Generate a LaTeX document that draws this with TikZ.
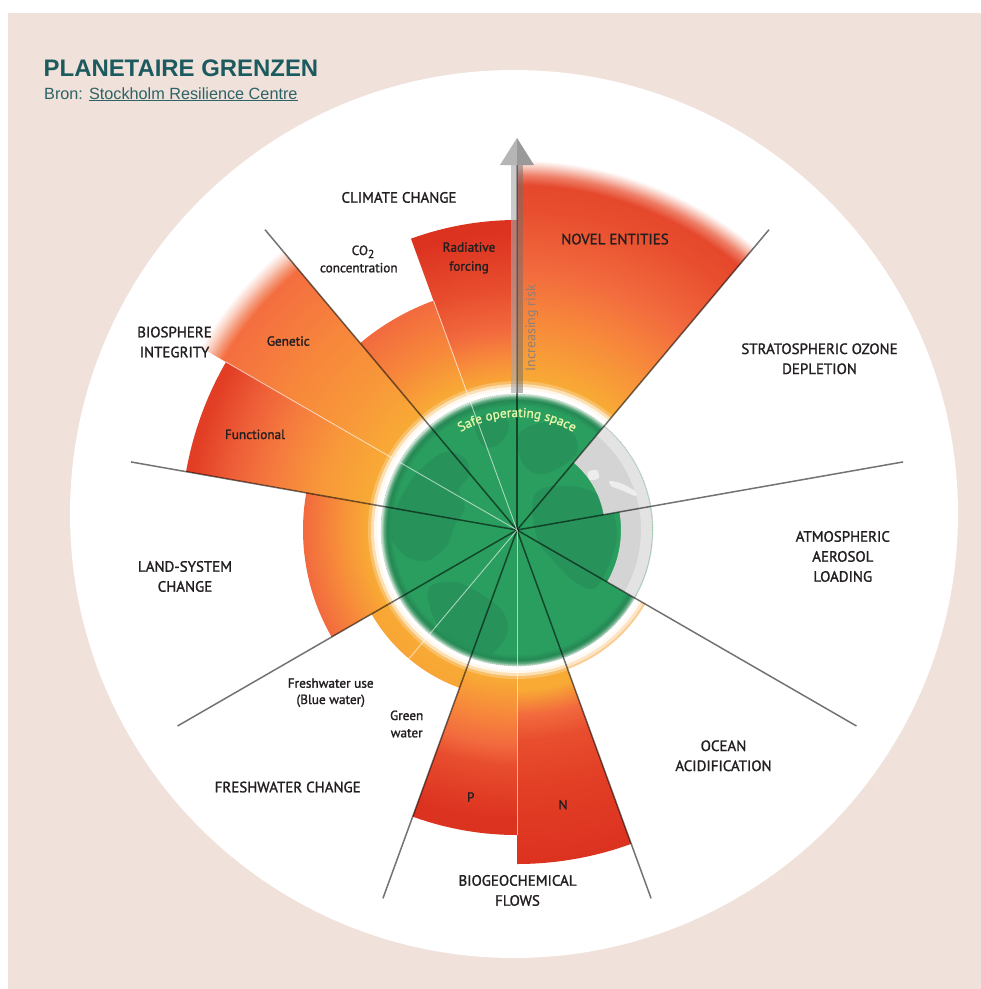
\documentclass[tikz,border=0pt]{standalone}
\usepackage{fontspec}
\setmainfont{PT Sans}
\newfontfamily\labfont[FakeBold=1.4]{PT Sans}
\newfontfamily\titlefont{Liberation Sans}
\usetikzlibrary{decorations.text}

\definecolor{beige}{HTML}{F0E1DA}
\definecolor{teal1}{HTML}{1B5A5E}
\definecolor{teal2}{HTML}{2D6366}
\definecolor{txt}{HTML}{231F20}
\definecolor{yo}{HTML}{F8AA35}
\definecolor{yo2}{HTML}{F8983A}
\definecolor{or1}{HTML}{F7883B}
\definecolor{or2}{HTML}{F26A3E}
\definecolor{or3}{HTML}{F57B3E}
\definecolor{or4}{HTML}{EE5F38}
\definecolor{or5}{HTML}{F5743F}
\definecolor{or6}{HTML}{F46E40}
\definecolor{or7}{HTML}{F78D3A}
\definecolor{fwc}{HTML}{F8A535}
\definecolor{rd1}{HTML}{E84E2E}
\definecolor{rd2}{HTML}{E23E25}
\definecolor{rd3}{HTML}{DC3220}
\definecolor{nv1}{HTML}{E5482C}
\definecolor{nv2}{HTML}{EE7F68}
\definecolor{nv3}{HTML}{F8C6BA}
\definecolor{gn1}{HTML}{F59878}
\definecolor{gn2}{HTML}{FAD0C2}
\definecolor{gr}{HTML}{2A9E5F}
\definecolor{grd}{HTML}{26905A}
\definecolor{gr1}{HTML}{248853}
\definecolor{gr2}{HTML}{5AA67C}
\definecolor{gr3}{HTML}{CFE9D8}
\definecolor{gray1}{HTML}{D4D4D4}
\definecolor{gray2}{HTML}{E3E3E3}
\definecolor{gray3}{HTML}{EDEDED}
\definecolor{ocn}{HTML}{F9BC6A}
\definecolor{safe}{HTML}{E6F5A8}
\definecolor{headl}{HTML}{B5B5B5}
\definecolor{headr}{HTML}{999999}
\definecolor{shaftl}{HTML}{A8A8A8}
\definecolor{shaftr}{HTML}{6E6E6E}
\definecolor{risk}{HTML}{8C8079}

\pgfdeclareradialshading{nov}{\pgfpointorigin}{color(0bp)=(yo); color(9.375bp)=(yo); color(13.125bp)=(or1); color(16.25bp)=(or2); color(20bp)=(rd1); color(21.5625bp)=(nv1); color(22.1875bp)=(nv2); color(22.6875bp)=(nv3); color(23.125bp)=(white); color(50bp)=(white)}
\pgfdeclareradialshading{rad}{\pgfpointorigin}{color(0bp)=(yo); color(9.0625bp)=(yo); color(10.9375bp)=(or1); color(12.5bp)=(or2); color(15bp)=(rd1); color(18.75bp)=(rd3); color(50bp)=(rd3)}
\pgfdeclareradialshading{co2}{\pgfpointorigin}{color(0bp)=(yo); color(9.375bp)=(yo); color(12.1875bp)=(or1); color(15.25bp)=(or2); color(50bp)=(or2)}
\pgfdeclareradialshading{gen}{\pgfpointorigin}{color(0bp)=(yo); color(9.375bp)=(yo); color(12.5bp)=(yo2); color(16.25bp)=(or1); color(20bp)=(or5); color(21.25bp)=(or6); color(21.75bp)=(gn1); color(22.3125bp)=(gn2); color(22.875bp)=(white); color(50bp)=(white)}
\pgfdeclareradialshading{fun}{\pgfpointorigin}{color(0bp)=(yo); color(9.375bp)=(yo); color(12.5bp)=(yo2); color(15.625bp)=(or3); color(18.125bp)=(or4); color(20.625bp)=(rd2); color(50bp)=(rd2)}
\pgfdeclareradialshading{land}{\pgfpointorigin}{color(0bp)=(yo); color(9.375bp)=(yo); color(11.25bp)=(or7); color(13.375bp)=(or2); color(50bp)=(or2)}
\pgfdeclareradialshading{fw}{\pgfpointorigin}{color(0bp)=(yo); color(9.375bp)=(yo); color(10.5bp)=(fwc); color(50bp)=(fwc)}
\pgfdeclareradialshading{pp}{\pgfpointorigin}{color(0bp)=(yo); color(9.375bp)=(yo); color(11.5625bp)=(or1); color(13.4375bp)=(or2); color(14.6875bp)=(rd1); color(18.125bp)=(rd3); color(50bp)=(rd3)}
\pgfdeclareradialshading{nn}{\pgfpointorigin}{color(0bp)=(yo); color(10bp)=(yo); color(11.5625bp)=(or2); color(13.125bp)=(rd1); color(16.25bp)=(rd2); color(20.875bp)=(rd3); color(50bp)=(rd3)}
\pgfdeclareradialshading{globe}{\pgfpointorigin}{color(0bp)=(gr); color(22.79bp)=(gr); color(23.9bp)=(gr1); color(24.45bp)=(gr2); color(25bp)=(gr3); color(50bp)=(gr3)}

\newcommand\wedgeshade[4]{%
  \begin{scope}
    \clip (0,0) -- (#1:#3) arc[start angle=#1,end angle=#2,radius=#3] -- cycle;
    \shade[shading=#4] (0,0) circle (400);
  \end{scope}}

\tikzset{
  spoke/.style={black, opacity=.55, line width=1.5bp},
  subline/.style={white, opacity=.6, line width=.9bp},
  land/.style={grd, opacity=.75},
  lab/.style={inner sep=0, anchor=base, text=txt, font=\labfont\fontsize{15}{18}\selectfont},
  slab/.style={inner sep=0, anchor=base, text=txt, font=\labfont\fontsize{13.3}{16}\selectfont},
}

\begin{document}
\begin{tikzpicture}[x=1bp,y=1bp]
\useasboundingbox (0,0) rectangle (981,-989);
\fill[white] (0,0) rectangle (981,-989);
\fill[beige] (8,-13) rectangle (981,-989);
\fill[white] (514,-514) circle (444);

\coordinate (C) at (517,-530);

\begin{scope}[shift={(C)}]
  % sectors
  \wedgeshade{50}{90}{375}{nov}
  \wedgeshade{90}{110}{310}{rad}
  \wedgeshade{110}{130}{244}{co2}
  \wedgeshade{130}{150}{372}{gen}
  \wedgeshade{150}{170}{336}{fun}
  \wedgeshade{170}{210}{214}{land}
  \wedgeshade{210}{250}{168}{fw}
  \wedgeshade{250}{270}{305}{pp}
  \wedgeshade{270}{290}{334}{nn}
  % ocean acidification rim
  \fill[ocn] (-70:137) arc[start angle=-70,end angle=-30,radius=137] -- (-30:148) arc[start angle=-30,end angle=-70,radius=148] -- cycle;
  % glow
  \fill[white, opacity=.25] (0,0) circle (149);
  \fill[white, opacity=.5] (0,0) circle (146);
  \fill[white, opacity=.8] (0,0) circle (143);
  \fill[white] (0,0) circle (140);
  % globe
  \shade[shading=globe] (0,0) circle (136);
  \begin{scope}
    \clip (0,0) circle (129);
    \begin{scope}[yscale=-1]
      % North America
      \fill[land] plot[smooth cycle, tension=.6] coordinates {(-128,-5) (-112,-40) (-95,-62) (-72,-78) (-52,-72) (-48,-55) (-58,-40) (-52,-22) (-62,-5) (-70,15) (-88,30) (-108,28) (-122,15)};
      % Greenland
      \fill[land] plot[smooth cycle, tension=.6] coordinates {(-42,-108) (-20,-118) (-8,-104) (-18,-86) (-34,-84)};
      % South America
      \fill[land] plot[smooth cycle, tension=.6] coordinates {(-88,58) (-62,52) (-36,64) (-14,82) (-10,104) (-26,124) (-48,128) (-66,112) (-84,86)};
      % Europe
      \fill[land] plot[smooth cycle, tension=.6] coordinates {(2,-96) (30,-108) (55,-98) (60,-78) (42,-62) (20,-56) (4,-70)};
      % Africa
      \fill[land] plot[smooth cycle, tension=.6] coordinates {(18,-36) (55,-44) (88,-30) (100,0) (94,30) (78,58) (58,52) (36,30) (20,8)};
    \end{scope}
  \end{scope}
  % grey part of the globe (ozone, aerosols)
  \fill[gray1] (10:88) arc[start angle=10,end angle=50,radius=88] -- (50:135) arc[start angle=50,end angle=10,radius=135] -- cycle;
  \fill[gray1] (-30:104) arc[start angle=-30,end angle=10,radius=104] -- (10:135) arc[start angle=10,end angle=-30,radius=135] -- cycle;
  \fill[gray2] (-30:124) arc[start angle=-30,end angle=50,radius=124] -- (50:135) arc[start angle=50,end angle=-30,radius=135] -- cycle;
  \begin{scope}[yscale=-1]
    \fill[gray3] plot[smooth cycle] coordinates {(71,-58) (80,-60) (82,-52) (73,-50)};
    \fill[gray3] plot[smooth cycle] coordinates {(93,-49) (106,-46) (119,-38) (118,-34) (104,-40) (94,-44)};
  \end{scope}
  \draw[gray!70, dash pattern=on .8bp off 1.2bp, line width=.7bp, opacity=.6] (0,0) circle (136);
  % spokes
  \foreach \a in {50,10,-30,-70,-110,-150,170,130} \draw[spoke] (0,0) -- (\a:392);
  \draw[spoke] (0,0) -- (90:365);
  \draw[subline] (0,0) -- (110:244);
  \draw[subline] (0,0) -- (150:336);
  \draw[subline] (0,0) -- (230:168);
  \draw[subline] (0,0) -- (270:305);
  % arrow of increasing risk
  \fill[shaftl, opacity=.6] (-6,137) rectangle (0,365);
  \fill[shaftr, opacity=.5] (0,137) rectangle (6,365);
  \fill[headl] (-17,365) -- (0,365) -- (0,392) -- cycle;
  \fill[headr] (0,365) -- (17,365) -- (0,392) -- cycle;
  \node[rotate=90, inner sep=0, text=risk, font=\fontsize{14}{16}\selectfont] (risk) at (15,201.7) {Increasing risk};
  \path[decorate, decoration={text along path, text align=center, text color=safe,
        text={|\labfont\fontsize{13.3}{15}\selectfont|Safe operating space}}]
        (150:113) arc[start angle=150, end angle=30, radius=113];
\end{scope}

% title
\node[anchor=base west, inner sep=0, text=teal1, font=\titlefont\bfseries\fontsize{24}{28}\selectfont] (title) at (43.5,-76.7) {PLANETAIRE GRENZEN};
\node[anchor=base west, inner sep=0, text=teal2, font=\titlefont\fontsize{16.3}{20}\selectfont] (src) at (44,-99) {Bron: \underline{Stockholm Resilience Centre}};

% main labels
\node[lab] (cc) at (399,-202.7) {CLIMATE CHANGE};
\node[lab] (ne) at (615,-244.3) {NOVEL ENTITIES};
\node[lab] (so1) at (819.5,-354) {STRATOSPHERIC OZONE};
\node[lab] (so2) at (819.5,-374) {DEPLETION};
\node[lab] (aa1) at (842.8,-541.7) {ATMOSPHERIC};
\node[lab] (aa2) at (842.8,-561.7) {AEROSOL};
\node[lab] (aa3) at (842.8,-581.7) {LOADING};
\node[lab] (oa1) at (723.5,-751) {OCEAN};
\node[lab] (oa2) at (723.5,-771) {ACIDIFICATION};
\node[lab] (bf1) at (517.5,-885.7) {BIOGEOCHEMICAL};
\node[lab] (bf2) at (517.5,-905.7) {FLOWS};
\node[lab] (fc) at (287.7,-792.3) {FRESHWATER CHANGE};
\node[lab] (ls1) at (185,-571.7) {LAND-SYSTEM};
\node[lab] (ls2) at (185,-591.7) {CHANGE};
\node[lab] (bi1) at (174.5,-337.3) {BIOSPHERE};
\node[lab] (bi2) at (174.5,-357.3) {INTEGRITY};

% sub labels
\node[slab] (rf1) at (469,-251.7) {Radiative};
\node[slab] (rf2) at (469,-270.7) {forcing};
\node[slab] (co1) at (363,-255) {CO\raisebox{-3bp}{\labfont\fontsize{11.5}{12}\selectfont 2}};
\node[slab] (co2) at (358.8,-272.3) {concentration};
\node[slab] (ge) at (288.3,-345.7) {Genetic};
\node[slab] (fu) at (255,-439) {Functional};
\node[slab] (bw1) at (330.7,-687.7) {Freshwater use};
\node[slab] (bw2) at (330.7,-704) {(Blue water)};
\node[slab] (gw1) at (406.7,-720) {Green};
\node[slab] (gw2) at (406.7,-737.3) {water};
\node[slab] (pl) at (470.7,-801.7) {P};
\node[slab] (nl) at (563,-809.3) {N};
\end{tikzpicture}
\end{document}
